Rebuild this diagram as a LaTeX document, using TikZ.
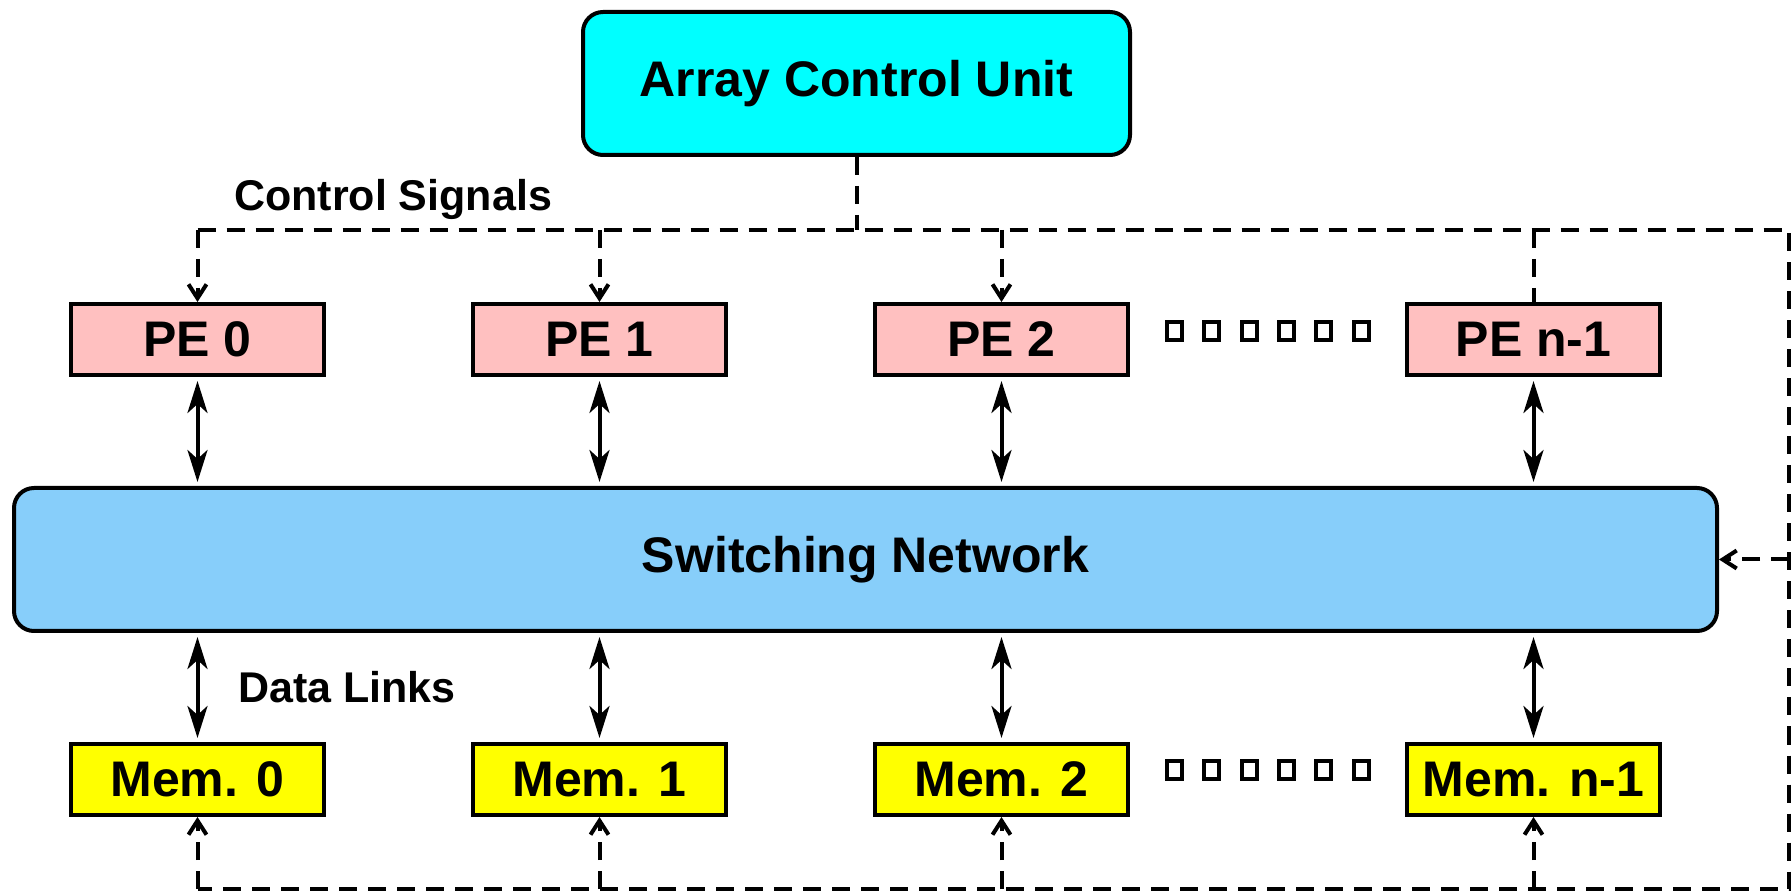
\documentclass[tikz,border=0pt]{standalone}
\usepackage{fontspec}
\setmainfont{Liberation Sans}
\usetikzlibrary{arrows.meta, positioning}

\definecolor{acucyan}{RGB}{0,255,255}
\definecolor{pepink}{RGB}{255,192,192}
\definecolor{netblue}{RGB}{135,206,250}
\definecolor{memyellow}{RGB}{255,255,0}

\begin{document}
\begin{tikzpicture}[
		x=1pt, y=1pt,
		node distance=402pt,
		box/.style={draw, line width=4pt, minimum width=253pt, minimum height=71pt, font=\fontsize{50}{60}\selectfont\bfseries},
		pe/.style={box, fill=pepink},
		mem/.style={box, fill=memyellow},
		note/.style={inner sep=0pt, font=\fontsize{43}{52}\selectfont\bfseries},
		sq/.style={draw, line width=4pt, inner sep=0pt, minimum width=15pt, minimum height=18pt},
		bus/.style={line width=4pt, dash pattern=on 18pt off 11pt},
		ctrl/.style={bus, -{Straight Barb[length=14pt, width=18pt]}},
		link/.style={line width=4pt, shorten <=4pt, shorten >=4pt, {Stealth[length=32pt, width=20pt, inset=9pt]}-{Stealth[length=32pt, width=20pt, inset=9pt]}}
		]
		\useasboundingbox (0,0) rectangle (1791,892);
		
		% Nodes
		\node (acu) [box, fill=acucyan, rounded corners=20pt, minimum width=547pt, minimum height=143pt] at (856.5,808.5) {Array Control Unit};
		\node (pe0) [pe] at (197.5,552.5) {PE 0};
		\node (pe1) [pe, right of=pe0] {PE 1};
		\node (pe2) [pe, right of=pe1] {PE 2};
		\node (pen) [pe, right of=pe2, node distance=532pt] {PE n-1};
		\node (sn) [box, fill=netblue, rounded corners=20pt, minimum width=1703pt, minimum height=143pt] at (865.5,332.5) {Switching Network};
		\node (mem0) [mem, below of=pe0, node distance=440pt] {Mem. 0};
		\node (mem1) [mem, below of=pe1, node distance=440pt] {Mem. 1};
		\node (mem2) [mem, below of=pe2, node distance=440pt] {Mem. 2};
		\node (memn) [mem, below of=pen, node distance=440pt] {Mem. n-1};
		\node (ctrllabel) [note, anchor=base west] at (234,681) {Control Signals};
		\node (datalabel) [note, anchor=base west] at (238,189) {Data Links};
		\foreach \i in {0,...,5} {
			\node (pedot\i) [sq] at (1174.5+37.3*\i,560.5) {};
			\node (memdot\i) [sq] at (1174.5+37.3*\i,122) {};
		}
		
		% Control bus
		\coordinate (bustl) at (197.5,662);
		\coordinate (bustr) at (1789,662);
		\coordinate (busbr) at (1789,3);
		\coordinate (busbl) at (197.5,3);
		\draw[bus] (acu.south) -- (acu.south |- bustl);
		\draw[bus] (bustl) -- (bustr) -- (busbr) -- (busbl);
		\draw[bus] (pen.north |- bustl) -- (pen.north);
		\foreach \n in {pe0,pe1,pe2}
			\draw[ctrl] (\n.north |- bustl) -- (\n.north);
		\foreach \n in {mem0,mem1,mem2,memn}
			\draw[ctrl] (\n.south |- busbl) -- (\n.south);
		\draw[ctrl] (sn.east -| bustr) -- (sn.east);
		
		% Data links
		\foreach \n in {pe0,pe1,pe2,pen}
			\draw[link] (\n.south) -- (\n.south |- sn.north);
		\foreach \n in {mem0,mem1,mem2,memn}
			\draw[link] (\n.north |- sn.south) -- (\n.north);
		
	\end{tikzpicture}
\end{document}
